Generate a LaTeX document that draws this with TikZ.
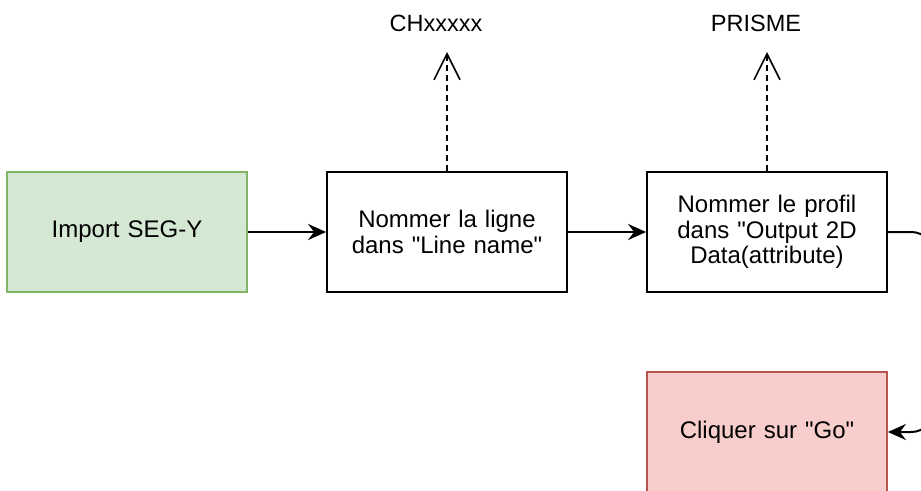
\documentclass[tikz,border=0pt]{standalone}
\usepackage{fontspec}
\newfontfamily\arialfont{Liberation Sans}
\usepackage{tikz}
\usetikzlibrary{positioning,arrows.meta,calc}
\definecolor{softgreen}{RGB}{213,232,212}
\definecolor{greenline}{RGB}{130,179,102}
\definecolor{softred}{RGB}{248,206,204}
\definecolor{redline}{RGB}{184,84,80}

\begin{document}
\begin{tikzpicture}[x=1pt,y=-1pt,
  box/.style={draw,line width=1.8pt,minimum width=240pt,minimum height=120pt,
    text width=220pt,align=center,font=\arialfont\fontsize{24}{25.5}\selectfont,inner sep=0pt},
  namelabel/.style={font=\arialfont\fontsize{23.5}{25}\selectfont,inner sep=0pt},
  flow/.style={line width=2pt,-{Stealth[length=18pt,width=16pt,inset=6pt]}},
  export/.style={line width=1.6pt,dash pattern=on 6pt off 4pt,
    -{Straight Barb[length=26pt,width=26pt,line width=1.6pt]}}]
\useasboundingbox (0,0) rectangle (921,490);
\clip (0,0) rectangle (921,490);

% Steps
\node[box,fill=softgreen,draw=greenline] (import) at (127,232) {Import SEG-Y};
\node[box] (ligne) at (447,232) {Nommer la ligne\\dans "Line name"};
\node[box] (profil) at (767,232) {Nommer le profil\\dans "Output 2D\\Data(attribute)};
\node[box,fill=softred,draw=redline] (go) at (767,432) {Cliquer sur "Go"};

% Names
\node[namelabel] (ch) at (436,23) {CHxxxxx};
\node[namelabel] (prisme) at (756,23) {PRISME};
\coordinate (chtip) at (447,52);
\coordinate (prismetip) at (767,52);

% Connectors
\draw[flow] (import) -- (ligne);
\draw[flow] (ligne) -- (profil);
\draw[flow,rounded corners=24pt] (profil.east) -- (935,232) -- (935,432) -- (go.east);
\draw[export] (ligne.north) -- (chtip);
\draw[export] (profil.north) -- (prismetip);
\end{tikzpicture}
\end{document}
